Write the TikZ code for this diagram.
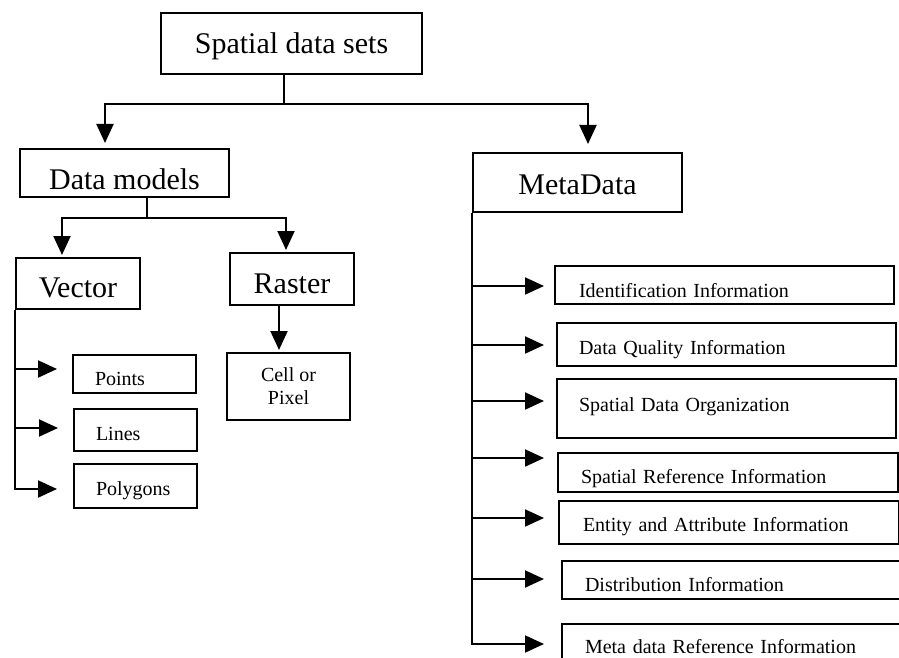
\documentclass[tikz,border=0pt]{standalone}
\usepackage{fontspec}
\setmainfont{Liberation Serif}
\usetikzlibrary{arrows.meta}
\begin{document}
\begin{tikzpicture}[x=1pt,y=-1pt,
  box/.style={draw, line width=2pt, inner sep=0pt, anchor=north west},
  big/.style={font=\fontsize{30}{36}\selectfont},
  small/.style={font=\fontsize{20}{23}\selectfont},
  lbox/.style={box, small, align=left},
  link/.style={line width=2pt},
  arr/.style={line width=2pt, -{Triangle[length=19pt,width=17pt]}},
  arrs/.style={line width=2pt, {Triangle[length=19pt,width=17pt]}-{Triangle[length=19pt,width=17pt]}},
]
\path[use as bounding box] (0,0) rectangle (899,658);
\clip (0,0) rectangle (899,658);

% main boxes
\node[box,big,minimum width=261pt,text height=41pt,text depth=20pt] (top) at (160,12) {Spatial data sets};
\node[box,big,minimum width=209pt,text height=40pt,text depth=8pt] (dm) at (19,148) {Data models};
\node[box,big,minimum width=209pt,text height=41pt,text depth=18pt] (md) at (472,152) {MetaData};
\node[box,big,minimum width=124pt,text height=39pt,text depth=12pt] (vec) at (15,257) {Vector};
\node[box,big,minimum width=124pt,text height=40pt,text depth=12pt] (ras) at (229,252) {Raster};

% vector / raster leaves
\node[lbox,text width=79pt,inner xsep=22pt,text height=30pt,text depth=8pt] (pts) at (72,354) {Points};
\node[lbox,text width=79pt,inner xsep=22pt,text height=31pt,text depth=11pt] (lin) at (73,408) {Lines};
\node[lbox,text width=79pt,inner xsep=22pt,text height=31pt,text depth=13pt] (pol) at (73,463) {Polygons};
\node[box,small,align=center,minimum width=123pt,minimum height=67pt] (cell) at (226,352) {Cell or\\Pixel};

% metadata sections
\node[lbox,text width=291pt,inner xsep=24pt,text height=31pt,text depth=7pt] (id) at (554,265) {Identification Information};
\node[lbox,text width=295pt,inner xsep=22pt,text height=31pt,text depth=12pt] (dq) at (556,322) {Data Quality Information};
\node[lbox,text width=295pt,inner xsep=22pt,text height=32pt,text depth=27pt] (sdo) at (556,378) {Spatial Data Organization};
\node[lbox,text width=294pt,inner xsep=23pt,text height=30pt,text depth=9pt] (sr) at (557,452) {Spatial Reference Information};
\node[lbox,text width=292pt,inner xsep=24pt,text height=30pt,text depth=13pt] (ea) at (558,500) {Entity and Attribute Information};
\node[lbox,text width=299pt,inner xsep=23pt,text height=30pt,text depth=8pt] (di) at (561,560) {Distribution Information};
\node[lbox,text width=299pt,inner xsep=23pt,text height=29pt,text depth=12pt] (mr) at (561,623) {Meta data Reference Information};

% top level split
\coordinate (bus) at (284,104);
\coordinate (busL) at (105,104);
\coordinate (busR) at (588,104);
\draw[link] (bus |- top.south) -- (bus);
\draw[arrs, shorten <=5pt, shorten >=8pt] (busL |- dm.north) -- (busL) -- (busR) -- (busR |- md.north);

% data models split
\coordinate (dbus) at (147,218);
\coordinate (dbL) at (62,218);
\coordinate (dbR) at (286,218);
\draw[link] (dbus |- dm.south) -- (dbus);
\draw[arrs, shorten <=2pt, shorten >=2pt] (dbL |- vec.north) -- (dbL) -- (dbR) -- (dbR |- ras.north);

% raster to cell
\coordinate (rs) at (279,304);
\draw[arr, shorten >=2pt] (rs |- ras.south) -- (rs |- cell.north);

% vector branches
\coordinate (vp) at (15,369);
\coordinate (vl) at (15,428);
\coordinate (vg) at (15,489);
\draw[arr, shorten >=16pt] (vec.south west) -- (vg) -- (vg -| pol.west);
\draw[arr, shorten >=15pt] (vp) -- (vp -| pts.west);
\draw[arr, shorten >=15pt] (vl) -- (vl -| lin.west);

% metadata branches
\coordinate (m1) at (472,286);
\coordinate (m2) at (472,345);
\coordinate (m3) at (472,401);
\coordinate (m4) at (472,458);
\coordinate (m5) at (472,518);
\coordinate (m6) at (472,579);
\coordinate (m7) at (472,644);
\draw[arr, shorten >=17pt] (md.south west) -- (m7) -- (m7 -| mr.west);
\draw[arr, shorten >=10pt] (m1) -- (m1 -| id.west);
\draw[arr, shorten >=12pt] (m2) -- (m2 -| dq.west);
\draw[arr, shorten >=12pt] (m3) -- (m3 -| sdo.west);
\draw[arr, shorten >=13pt] (m4) -- (m4 -| sr.west);
\draw[arr, shorten >=14pt] (m5) -- (m5 -| ea.west);
\draw[arr, shorten >=17pt] (m6) -- (m6 -| di.west);
\end{tikzpicture}
\end{document}
